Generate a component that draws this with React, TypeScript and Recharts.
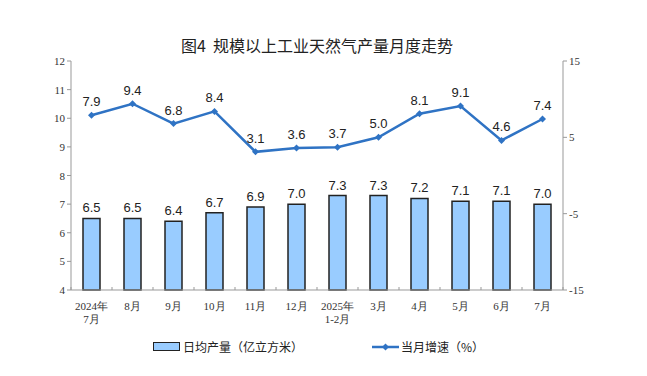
import React from 'react';
import { ComposedChart, Bar, Line, XAxis, YAxis, LabelList, Legend } from 'recharts';

const months = ['2024年\n7月', '8月', '9月', '10月', '11月', '12月', '2025年\n1-2月', '3月', '4月', '5月', '6月', '7月'];
const dailyOutput = [6.5, 6.5, 6.4, 6.7, 6.9, 7.0, 7.3, 7.3, 7.2, 7.1, 7.1, 7.0];
const growth = [7.9, 9.4, 6.8, 8.4, 3.1, 3.6, 3.7, 5.0, 8.1, 9.1, 4.6, 7.4];
const leftTicks = [4, 5, 6, 7, 8, 9, 10, 11, 12];
const rightTicks = [-15, -5, 5, 15];

const data = months.map((m, i) => ({ month: m, output: dailyOutput[i], growth: growth[i] }));

const BAR_FILL = '#99ccff';
const LINE_COLOR = '#2f73c4';
const serif = '"Liberation Serif", "DejaVu Serif", serif';
const sans = '"Liberation Sans", Arial, sans-serif';

function MonthTick(props: any) {
  const { x, y, payload, width, visibleTicksCount, index } = props;
  const lines = String(payload.value).split('\n');
  const half = width && visibleTicksCount ? width / visibleTicksCount / 2 : 20.5;
  const axisY = y - 8;
  return (
    <g>
      {/* small marks at category boundaries, drawn inside the plot */}
      <line x1={x - half} x2={x - half} y1={axisY} y2={axisY - 3} stroke="#999" />
      {index === visibleTicksCount - 1 && (
        <line x1={x + half} x2={x + half} y1={axisY} y2={axisY - 3} stroke="#999" />
      )}
      <text x={x} y={y + 12} textAnchor="middle" fontSize={11} fill="#333" fontFamily={serif}>
        {lines.map((l, i) => (
          <tspan key={i} x={x} dy={i === 0 ? 0 : 13}>{l}</tspan>
        ))}
      </text>
    </g>
  );
}

function ValueTick(props: any) {
  const { x, y, payload, textAnchor } = props;
  return (
    <text x={x} y={y} dy={4} textAnchor={textAnchor} fontSize={11} fill="#333" fontFamily={serif}>
      {payload.value}
    </text>
  );
}

function Diamond(props: any) {
  const { cx, cy } = props;
  if (cx == null || cy == null) return null;
  const r = 3.5;
  return <path d={`M${cx},${cy - r}L${cx + r},${cy}L${cx},${cy + r}L${cx - r},${cy}Z`} fill={LINE_COLOR} />;
}

function LegendBox() {
  return (
    <div style={{ position: 'relative', height: 36, fontFamily: '"Noto Sans CJK SC", sans-serif', fontSize: 12, color: '#222' }}>
      <div style={{ position: 'absolute', left: 153, top: -2, display: 'flex', alignItems: 'center' }}>
        <span style={{ display: 'inline-block', width: 25, height: 7, background: BAR_FILL, border: '1.5px solid #222', marginRight: 3 }} />
        <span>日均产量（亿立方米）</span>
      </div>
      <div style={{ position: 'absolute', left: 372, top: -2, display: 'flex', alignItems: 'center' }}>
        <svg width={27} height={10} style={{ marginRight: 2 }}>
          <line x1={0} y1={5} x2={27} y2={5} stroke={LINE_COLOR} strokeWidth={2.5} />
          <path d="M13.5,1.5L17,5L13.5,8.5L10,5Z" fill={LINE_COLOR} />
        </svg>
        <span>当月增速（%）</span>
      </div>
    </div>
  );
}

export default function App() {
  return (
    <div style={{ position: 'absolute', left: 0, top: 0, width: 647, height: 376, background: '#fff' }}>
      <div style={{ position: 'absolute', top: 33, left: 0, width: 634, textAlign: 'center', fontFamily: '"Noto Sans CJK SC", sans-serif', fontSize: 16, fontWeight: 400, color: '#222', whiteSpace: 'pre' }}>
        {'图4  规模以上工业天然气产量月度走势'}
      </div>
      <ComposedChart width={647} height={376} data={data} margin={{ top: 61, right: 0, left: 0, bottom: 0 }}>
        <XAxis
          dataKey="month"
          height={50}
          interval={0}
          tick={<MonthTick />}
          axisLine={{ stroke: '#999' }}
          tickLine={false}
        />
        <YAxis
          yAxisId="left"
          width={71}
          domain={[4, 12]}
          ticks={leftTicks}
          interval={0}
          tick={<ValueTick />}
          axisLine={{ stroke: '#999' }}
          tickLine={{ stroke: '#999' }}
          tickSize={4}
        />
        <YAxis
          yAxisId="right"
          orientation="right"
          width={84}
          domain={[-15, 15]}
          ticks={rightTicks}
          interval={0}
          tick={<ValueTick />}
          axisLine={{ stroke: '#999' }}
          tickLine={{ stroke: '#999' }}
          tickSize={4}
        />
        <Legend verticalAlign="bottom" height={36} content={() => <LegendBox />} />
        <Bar yAxisId="left" dataKey="output" barSize={17} fill={BAR_FILL} stroke="#222" strokeWidth={1.5} isAnimationActive={false}>
          <LabelList dataKey="output" position="top" offset={6} formatter={(v: any) => Number(v).toFixed(1)} style={{ fontSize: 13, fill: '#222', fontFamily: sans }} />
        </Bar>
        <Line yAxisId="right" dataKey="growth" stroke={LINE_COLOR} strokeWidth={2.5} dot={<Diamond />} activeDot={false} isAnimationActive={false}>
          <LabelList dataKey="growth" position="top" offset={9} formatter={(v: any) => Number(v).toFixed(1)} style={{ fontSize: 13, fill: '#222', fontFamily: sans }} />
        </Line>
      </ComposedChart>
    </div>
  );
}
